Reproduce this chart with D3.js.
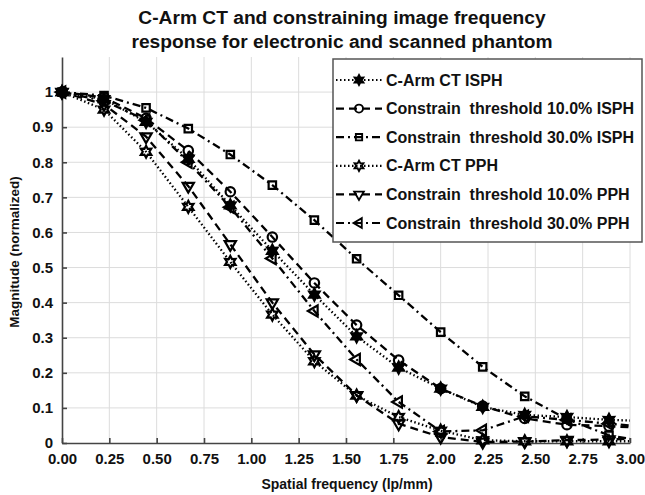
<!DOCTYPE html>
<html>
<head>
    <meta charset="utf-8">
    <style>
        body { margin: 0; background: #fff; }
        text { font-family: "Liberation Sans", Arial, sans-serif; font-weight: bold; fill: #111; }
        .grid line { stroke: #dcdcdc; stroke-width: 1; }
        .axis path, .axis line { stroke: #444; stroke-width: 1.6; }
        .axis text { font-size: 15px; }
        .series { fill: none; stroke: #000; stroke-width: 2.3; }
    </style>
    <title>MTF</title>
</head>
<body>
    <svg id="graph"></svg>
    <script src="https://cdn.jsdelivr.net/npm/d3@7"></script>
    <script>
        // Spatial frequency samples (lp/mm); last sample has no marker
        var freq = [0, 0.222, 0.444, 0.667, 0.889, 1.111, 1.333, 1.556, 1.778, 2.0, 2.222, 2.444, 2.667, 2.889, 3.0];
        var markerCount = 14;

        var armIsph  = [1, 0.98, 0.915, 0.81, 0.677, 0.548, 0.423, 0.304, 0.215, 0.155, 0.103, 0.08, 0.074, 0.066, 0.064];
        var th10Isph = [1, 0.985, 0.925, 0.833, 0.716, 0.587, 0.456, 0.336, 0.236, 0.155, 0.105, 0.07, 0.052, 0.048, 0.045];
        var th30Isph = [1, 0.99, 0.955, 0.896, 0.822, 0.735, 0.635, 0.525, 0.421, 0.316, 0.217, 0.133, 0.068, 0.022, 0.012];
        var armPph   = [1, 0.95, 0.83, 0.673, 0.516, 0.366, 0.233, 0.135, 0.074, 0.035, 0.008, 0.005, 0.005, 0.005, 0.005];
        var th10Pph  = [1, 0.965, 0.873, 0.732, 0.566, 0.4, 0.252, 0.136, 0.055, 0.017, 0.003, 0.004, 0.008, 0.01, 0.012];
        var th30Pph  = [1, 0.975, 0.92, 0.80, 0.672, 0.526, 0.376, 0.238, 0.117, 0.033, 0.036, 0.076, 0.066, 0.055, 0.05];

        var seriesNames = ['C-Arm CT ISPH', 'Constrain  threshold 10.0% ISPH', 'Constrain  threshold 30.0% ISPH',
            'C-Arm CT PPH', 'Constrain  threshold 10.0% PPH', 'Constrain  threshold 30.0% PPH'];

        var xTicks = [0, 0.25, 0.5, 0.75, 1.0, 1.25, 1.5, 1.75, 2.0, 2.25, 2.5, 2.75, 3.0];
        var yTicks = [0, 0.1, 0.2, 0.3, 0.4, 0.5, 0.6, 0.7, 0.8, 0.9, 1.0];

        var titleLines = ['C-Arm CT and constraining image frequency', 'response for electronic and scanned phantom'];

        // line style / marker per series
        var styles = [
            { dash: '1.5,2.5', marker: 'hex', fill: '#000' },
            { dash: '8,5', marker: 'circle', fill: 'none' },
            { dash: '8,4,2,4', marker: 'square', fill: 'none' },
            { dash: '1.5,2.5', marker: 'hex', fill: 'none' },
            { dash: '8,5', marker: 'down', fill: 'none' },
            { dash: '8,4,2,4', marker: 'left', fill: 'none' }
        ];
        var values = [armIsph, th10Isph, th30Isph, armPph, th10Pph, th30Pph];

        var W = 645, H = 495;
        var svg = d3.select('#graph').attr('width', W).attr('height', H);

        var x = d3.scaleLinear().domain([0, 3]).range([62, 630]);
        var y = d3.scaleLinear().domain([0, 1.1]).range([443, 57]);

        // grid
        var grid = svg.append('g').attr('class', 'grid');
        grid.selectAll('.gx').data(xTicks.slice(1)).enter().append('line')
            .attr('x1', d => x(d)).attr('x2', d => x(d))
            .attr('y1', y(0)).attr('y2', y(1.1));
        grid.selectAll('.gy').data(yTicks.slice(1)).enter().append('line')
            .attr('x1', x(0)).attr('x2', x(3))
            .attr('y1', d => y(d)).attr('y2', d => y(d));

        // axes
        svg.append('g').attr('class', 'axis')
            .attr('transform', translation(0, y(0)))
            .call(d3.axisBottom(x).tickValues(xTicks).tickFormat(d3.format('.2f'))
                .tickSizeInner(-5).tickSizeOuter(0).tickPadding(10));
        svg.append('g').attr('class', 'axis')
            .attr('transform', translation(x(0), 0))
            .call(d3.axisLeft(y).tickValues(yTicks)
                .tickFormat(d => (d === 0 || d === 1) ? d3.format('d')(d) : d3.format('.1f')(d))
                .tickSizeInner(-5).tickSizeOuter(0).tickPadding(9));

        // labels
        svg.selectAll('.title').data(titleLines).enter().append('text')
            .attr('x', 342).attr('y', (d, i) => 24 + i * 23.5)
            .attr('text-anchor', 'middle').style('font-size', '19.2px')
            .text(d => d);
        svg.append('text').attr('x', 347).attr('y', 489)
            .attr('text-anchor', 'middle').style('font-size', '14px')
            .text('Spatial frequency (lp/mm)');
        svg.append('text').attr('transform', 'translate(19,252) rotate(-90)')
            .attr('text-anchor', 'middle').style('font-size', '13.5px')
            .text('Magnitude (normalized)');

        // markers
        function hexPath(r) {
            var pts = [];
            for (var k = 0; k < 12; k++) {
                var a = Math.PI / 6 * k - Math.PI / 2;
                var rr = k % 2 === 0 ? r : r * 0.55;
                pts.push([rr * Math.cos(a), rr * Math.sin(a)]);
            }
            return 'M' + pts.map(p => p.join(',')).join('L') + 'Z';
        }
        function markerPath(type) {
            if (type === 'hex') return hexPath(6);
            if (type === 'circle') return d3.symbol(d3.symbolCircle, 70)();
            if (type === 'square') return d3.symbol(d3.symbolSquare, 55)();
            return d3.symbol(d3.symbolTriangle, 55)();
        }
        function markerRotate(type) {
            if (type === 'down') return ' rotate(180)';
            if (type === 'left') return ' rotate(-90)';
            return '';
        }

        var line = d3.line().x(d => x(d[0])).y(d => y(d[1]));

        values.forEach(function (vals, s) {
            var st = styles[s];
            var pts = freq.map((f, i) => [f, vals[i]]);
            svg.append('path').attr('class', 'series')
                .attr('d', line(pts))
                .attr('stroke-dasharray', st.dash);
            svg.append('g').selectAll('path')
                .data(pts.slice(0, markerCount)).enter().append('path')
                .attr('d', markerPath(st.marker))
                .attr('transform', d => translation(x(d[0]), y(d[1])) + markerRotate(st.marker))
                .attr('fill', st.fill).attr('stroke', '#000').attr('stroke-width', 2.2);
        });

        // legend
        var lg = svg.append('g').attr('transform', translation(333, 59));
        lg.append('rect').attr('width', 309).attr('height', 183)
            .attr('fill', '#fff').attr('stroke', '#555').attr('stroke-width', 1.5);
        var rows = lg.selectAll('.row').data(seriesNames).enter().append('g')
            .attr('transform', (d, i) => translation(0, 21 + i * 28.6));
        rows.append('line').attr('x1', 3).attr('x2', 49).attr('y1', 0).attr('y2', 0)
            .attr('stroke', '#000').attr('stroke-width', 2.2)
            .attr('stroke-dasharray', (d, i) => styles[i].dash);
        rows.append('path')
            .attr('d', (d, i) => markerPath(styles[i].marker))
            .attr('transform', (d, i) => translation(26, 0) + markerRotate(styles[i].marker) + ' scale(0.85)')
            .attr('fill', (d, i) => styles[i].fill).attr('stroke', '#000').attr('stroke-width', 2.2);
        rows.append('text').attr('x', 53).attr('y', 5.5).style('font-size', '16px')
            .style('white-space', 'pre').text(d => d);

        function translation(x, y) {
            return 'translate(' + x + ',' + y + ')';
        }
    </script>
</body>
</html>
